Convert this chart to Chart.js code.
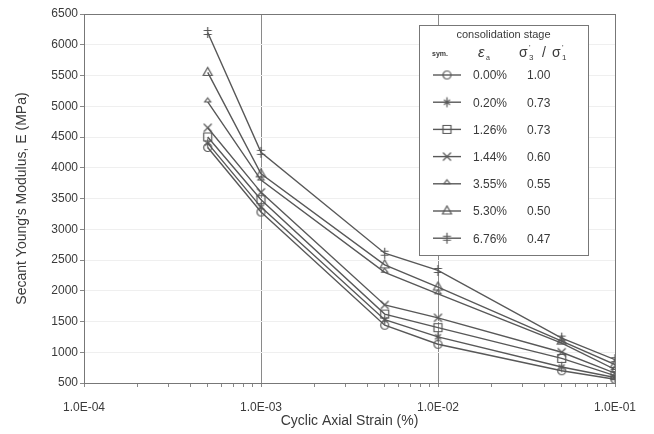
<!DOCTYPE html>
<html>
<head>
<meta charset="utf-8">
<script src="https://cdn.jsdelivr.net/npm/chart.js@4/dist/chart.umd.min.js"></script>
<style>
  html, body { margin: 0; padding: 0; background: #fff; }
  #wrap { width: 654px; height: 434px; }
</style>
</head>
<body>
<div id="wrap"><canvas id="c" width="654" height="434"></canvas></div>
<script>
// ── Data ───────────────────────────────────────────────────────
const strain = [5e-4, 1e-3, 5e-3, 1e-2, 5e-2, 1e-1];

const e000 = [4330, 3280, 1440, 1130, 700, 560];
const e020 = [4400, 3360, 1530, 1250, 760, 590];
const e126 = [4500, 3480, 1620, 1400, 900, 620];
const e144 = [4650, 3600, 1770, 1560, 1000, 660];
const e355 = [5070, 3800, 2300, 1950, 1150, 720];
const e530 = [5550, 3900, 2420, 2060, 1180, 800];
const e676 = [6200, 4250, 2610, 2330, 1230, 880];

const strainLabels = ['0.00%', '0.20%', '1.26%', '1.44%', '3.55%', '5.30%', '6.76%'];
const ratioLabels  = ['1.00', '0.73', '0.73', '0.60', '0.55', '0.50', '0.47'];
const symbols      = ['circle', 'star', 'square', 'x', 'hat', 'triangle', 'hash'];

const decades = [1e-4, 1e-3, 1e-2, 1e-1];
const decadeLabels = ['1.0E-04', '1.0E-03', '1.0E-02', '1.0E-01'];

// ── Look ────────────────────────────────────────────────────────
const INK = '#585858';
const TXT = '#3a3a3a';
const FONT = "'Liberation Sans', Arial, sans-serif";

// small hand drawn markers, same canvas used in plot and legend
function makeMarker(kind) {
    const c = document.createElement('canvas');
    c.width = c.height = 13;
    const g = c.getContext('2d');
    g.strokeStyle = INK;
    g.lineWidth = 1.2;
    const m = 6.5;
    g.beginPath();
    switch (kind) {
        case 'circle':
            g.arc(m, m, 4, 0, Math.PI * 2);
            break;
        case 'star':
            g.moveTo(m, 1.5); g.lineTo(m, 11.5);
            g.moveTo(3.5, 4); g.lineTo(9.5, 9);
            g.moveTo(9.5, 4); g.lineTo(3.5, 9);
            break;
        case 'square':
            g.rect(2.5, 2.5, 8, 8);
            break;
        case 'x':
            g.moveTo(2.5, 2.5); g.lineTo(10.5, 10.5);
            g.moveTo(10.5, 2.5); g.lineTo(2.5, 10.5);
            break;
        case 'hat':
            g.moveTo(m, 2.5); g.lineTo(9.5, m); g.lineTo(3.5, m); g.closePath();
            break;
        case 'triangle':
            g.moveTo(m, 1.5); g.lineTo(11, 9.5); g.lineTo(2, 9.5); g.closePath();
            break;
        case 'hash':
            g.moveTo(m, 1); g.lineTo(m, 12);
            g.moveTo(2.5, 4.5); g.lineTo(10.5, 4.5);
            g.moveTo(2.5, 8.5); g.lineTo(10.5, 8.5);
            break;
    }
    g.stroke();
    return c;
}

const markers = symbols.map(makeMarker);
const series = [e000, e020, e126, e144, e355, e530, e676];

const datasets = series.map((vals, i) => ({
    label: strainLabels[i] + ' ' + ratioLabels[i],
    data: vals.map((v, k) => ({ x: strain[k], y: v })),
    borderColor: INK,
    borderWidth: 1.4,
    tension: 0,
    pointStyle: markers[i],
    pointRadius: 5,
    fill: false
}));

// ── Plugins: frame + inset legend ───────────────────────────────
const framePlugin = {
    id: 'frame',
    afterDatasetsDraw(chart) {
        const { ctx, chartArea: a } = chart;
        ctx.save();
        ctx.strokeStyle = '#777';
        ctx.lineWidth = 1;
        ctx.strokeRect(a.left + 0.5, a.top + 0.5, a.right - a.left, a.bottom - a.top);
        ctx.restore();
    }
};

const legendPlugin = {
    id: 'insetLegend',
    afterDraw(chart) {
        const ctx = chart.ctx;
        const bx = 419, by = 25, bw = 169, bh = 230;
        ctx.save();
        ctx.fillStyle = '#fff';
        ctx.fillRect(bx, by, bw, bh);
        ctx.strokeStyle = '#777';
        ctx.lineWidth = 1;
        ctx.strokeRect(bx + 0.5, by + 0.5, bw, bh);

        ctx.fillStyle = TXT;
        ctx.textBaseline = 'middle';
        ctx.textAlign = 'center';
        ctx.font = '11px ' + FONT;
        ctx.fillText('consolidation stage', bx + bw / 2, 35);

        // header: sym.  εa  σ'3 / σ'1
        ctx.textAlign = 'left';
        ctx.font = 'bold 7px ' + FONT;
        ctx.fillText('sym.', 432, 54);
        ctx.font = 'italic 15px ' + FONT;
        ctx.fillText('ε', 478, 53);
        ctx.font = '7px ' + FONT;
        ctx.fillText('a', 486, 58);
        ctx.font = '14px ' + FONT;
        ctx.fillText('σ', 519, 53);
        ctx.font = '8px ' + FONT;
        ctx.fillText("'", 529, 48);
        ctx.fillText('3', 529, 58);
        ctx.font = '14px ' + FONT;
        ctx.fillText('/', 542, 53);
        ctx.fillText('σ', 552, 53);
        ctx.font = '8px ' + FONT;
        ctx.fillText("'", 562, 48);
        ctx.fillText('1', 562, 58);

        ctx.font = '12px ' + FONT;
        for (let i = 0; i < strainLabels.length; i++) {
            const y = 75 + i * 27.2;
            ctx.strokeStyle = INK;
            ctx.lineWidth = 1.4;
            ctx.beginPath();
            ctx.moveTo(433, y);
            ctx.lineTo(461, y);
            ctx.stroke();
            ctx.drawImage(markers[i], 447 - 6.5, y - 6.5);
            ctx.fillText(strainLabels[i], 473, y + 1);
            ctx.fillText(ratioLabels[i], 527, y + 1);
        }
        ctx.restore();
    }
};

// ── Chart ───────────────────────────────────────────────────────
new Chart(document.getElementById('c'), {
    type: 'line',
    data: { datasets },
    plugins: [framePlugin, legendPlugin],
    options: {
        responsive: false,
        animation: false,
        layout: { padding: { top: 14, right: 39, left: 0, bottom: 0 } },
        plugins: { legend: { display: false }, tooltip: { enabled: false } },
        scales: {
            x: {
                type: 'logarithmic',
                min: 1e-4,
                max: 1e-1,
                afterBuildTicks(scale) {
                    const t = [];
                    decades.forEach((d, i) => {
                        t.push({ value: d, major: true });
                        if (i < decades.length - 1) {
                            for (let k = 2; k <= 9; k++) t.push({ value: d * k });
                        }
                    });
                    scale.ticks = t;
                },
                afterFit(scale) { scale.height = 51; },
                grid: {
                    color: (c) => (c.tick && c.tick.major ? '#8a8a8a' : 'transparent'),
                    tickColor: '#888',
                    tickLength: 4,
                    lineWidth: 1
                },
                border: { color: '#777' },
                ticks: {
                    autoSkip: false,
                    maxRotation: 0,
                    padding: 13,
                    color: TXT,
                    font: { family: FONT, size: 12 },
                    callback: (v) => {
                        const i = decades.findIndex(d => Math.abs(d - v) / d < 1e-6);
                        return i >= 0 ? decadeLabels[i] : '';
                    }
                },
                title: {
                    display: true,
                    text: 'Cyclic Axial Strain (%)',
                    color: TXT,
                    font: { family: FONT, size: 14 },
                    padding: 4
                }
            },
            y: {
                min: 500,
                max: 6500,
                afterFit(scale) { scale.width = 84; },
                grid: { color: '#efefef', tickColor: '#888', tickLength: 4 },
                border: { color: '#777' },
                ticks: {
                    stepSize: 500,
                    padding: 2,
                    color: TXT,
                    font: { family: FONT, size: 12 },
                    callback: (v) => String(v)
                },
                title: {
                    display: true,
                    text: "Secant Young's Modulus, E (MPa)",
                    color: TXT,
                    font: { family: FONT, size: 14 },
                    padding: 14
                }
            }
        }
    }
});
</script>
</body>
</html>
